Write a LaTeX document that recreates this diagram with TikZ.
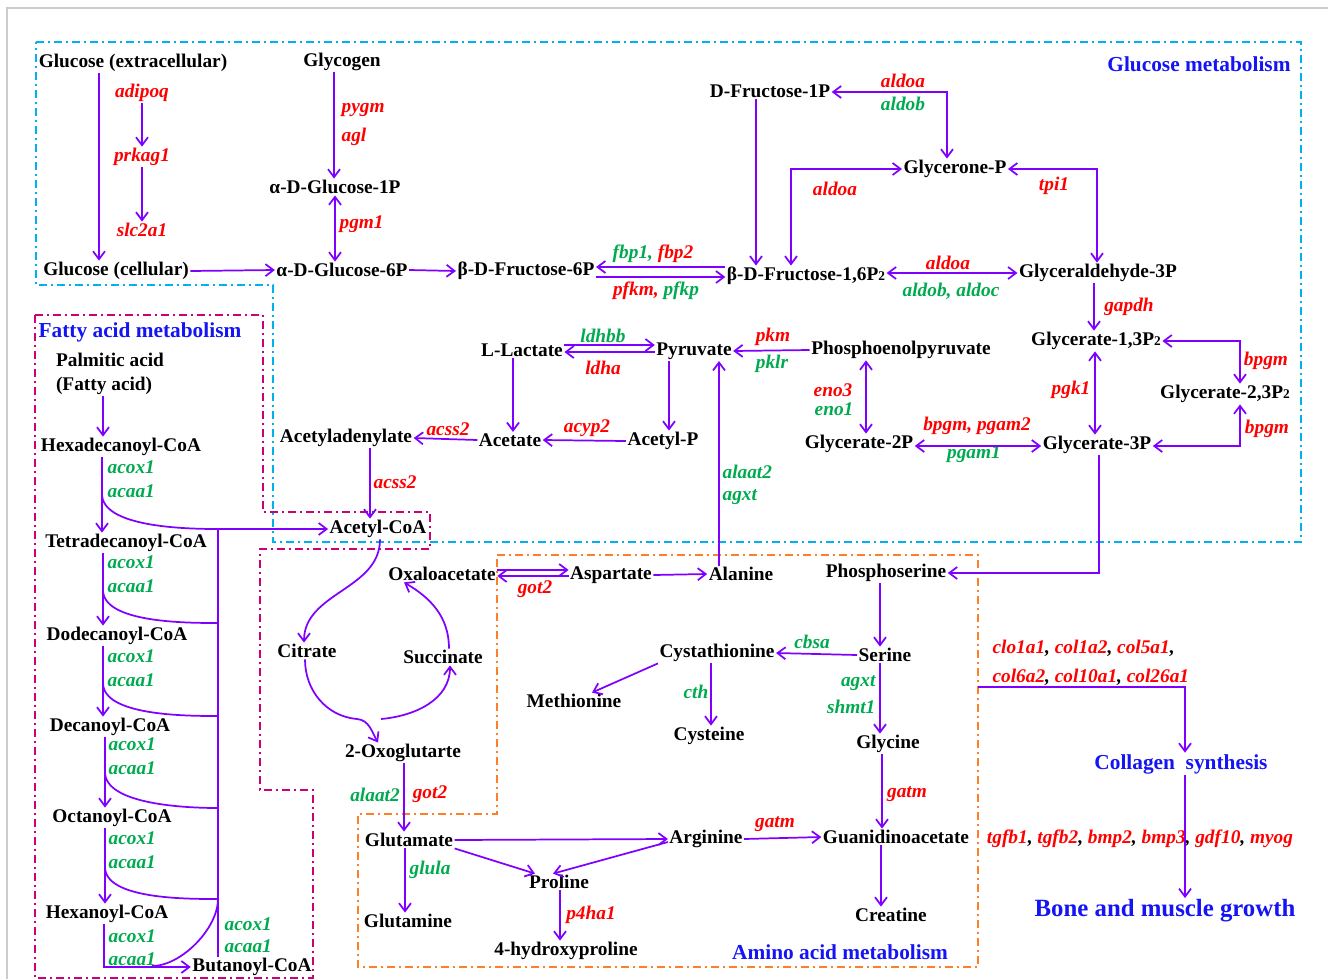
\documentclass[tikz,border=0pt]{standalone}
\usepackage{fontspec}
\setmainfont{Liberation Serif}
\usepackage{tikz}
\usetikzlibrary{arrows.meta}
\usetikzlibrary{calc}
\definecolor{arrowviolet}{RGB}{128,0,255}
\definecolor{genered}{RGB}{255,0,0}
\definecolor{genegreen}{RGB}{0,170,80}
\definecolor{headblue}{RGB}{20,20,245}
\definecolor{boxcyan}{RGB}{0,176,240}
\definecolor{boxmagenta}{RGB}{204,0,119}
\definecolor{boxorange}{RGB}{255,127,39}
\tikzstyle{met} = [font=\fontsize{14.5}{17}\selectfont\bfseries, inner sep=1pt, yshift=-1.5pt]
\tikzstyle{gene} = [font=\fontsize{14.5}{17}\selectfont\bfseries\itshape, text=genered, inner sep=1pt, yshift=-1.5pt]
\tikzstyle{genegr} = [gene, text=genegreen]
\tikzstyle{header} = [font=\fontsize{16}{19}\selectfont\bfseries, text=headblue, inner sep=1pt, yshift=-1.5pt]
\tikzstyle{line} = [draw=arrowviolet, line width=1.3pt, -{Straight Barb[length=6pt,width=9pt]}]
\tikzstyle{dline} = [line, {Straight Barb[length=6pt,width=9pt]}-{Straight Barb[length=6pt,width=9pt]}]
\tikzstyle{branch} = [draw=arrowviolet, line width=1.3pt]
\tikzstyle{region} = [line width=1.3pt, dash pattern=on 6pt off 3pt on 1.5pt off 3pt]
\newcommand{\Ptwo}{P{\fontsize{10}{10}\selectfont 2}}
\newcommand{\grn}[1]{\textcolor{genegreen}{#1}}
\newcommand{\rd}[1]{\textcolor{genered}{#1}}

\begin{document}
\begin{tikzpicture}[x=0.75pt, y=-0.75pt]
    \useasboundingbox[fill=white] (0,0) rectangle (1328,979);
    \draw[black!20, line width=0.8pt] (7,979) -- (7,8) -- (1328,8);
    % Regions
    \draw[region, draw=boxcyan] (36,42) -- (1301,42) -- (1301,542) -- (273,542) -- (273,285) -- (36,285) -- cycle;
    \draw[region, draw=boxmagenta] (35,315) -- (263,315) -- (263,512) -- (430,512) -- (430,549) -- (260,549) -- (260,790) -- (313,790) -- (313,978) -- (35,978) -- cycle;
    \draw[region, draw=boxorange] (497,555) -- (978,555) -- (978,967) -- (358,967) -- (358,814) -- (497,814) -- cycle;

    % Place nodes: glucose metabolism
    \node [header] (gmt) at (1199,62) {Glucose metabolism};
    \node [met] (gluext) at (133,61) {Glucose (extracellular)};
    \node [met] (glycogen) at (342,60) {Glycogen};
    \node [met] (gluc) at (116,269) {Glucose (cellular)};
    \node [met] (ag1p) at (335,185) {α-D-Glucose-1P};
    \node [met] (ag6p) at (342,268) {α-D-Glucose-6P};
    \node [met] (bf6p) at (526,269) {β-D-Fructose-6P};
    \node [met] (bf16) at (806,274) {β-D-Fructose-1,6\Ptwo};
    \node [met] (df1p) at (770,89) {D-Fructose-1P};
    \node [met] (glyp) at (955,167) {Glycerone-P};
    \node [met] (ga3p) at (1098,271) {Glyceraldehyde-3P};
    \node [met] (g13) at (1096,339) {Glycerate-1,3\Ptwo};
    \node [met] (g23) at (1225,392) {Glycerate-2,3\Ptwo};
    \node [met] (g3p) at (1097,443) {Glycerate-3P};
    \node [met] (g2p) at (859,442) {Glycerate-2P};
    \node [met] (pep) at (901,348) {Phosphoenolpyruvate};
    \node [met] (pyr) at (694,349) {Pyruvate};
    \node [met] (ll) at (522,348) {L-Lactate};
    \node [met] (ace) at (510,438) {Acetate};
    \node [met] (acp) at (663,439) {Acetyl-P};
    \node [met] (acad) at (346,436) {Acetyladenylate};
    \node [met] (accoa) at (378,527) {Acetyl-CoA};
    % genes
    \node [gene] (adipoq) at (142,91) {adipoq};
    \node [gene] (prkag) at (142,155) {prkag1};
    \node [gene] (slc) at (142,228) {slc2a1};
    \node [gene, anchor=west] (pygm) at (340,108) {pygm};
    \node [gene, anchor=west] (agl) at (340,135) {agl};
    \node [gene, anchor=west] (pgm) at (338,222) {pgm1};
    \node [gene] (fbp) at (653,252) {\grn{fbp1,} fbp2};
    \node [gene] (pfk) at (656,289) {pfkm, \grn{pfkp}};
    \node [gene] (aldoaA) at (903,79) {aldoa};
    \node [genegr] (aldobA) at (903,102) {aldob};
    \node [gene] (aldoaB) at (835,187) {aldoa};
    \node [gene] (tpi) at (1054,184) {tpi1};
    \node [gene] (aldoaC) at (948,261) {aldoa};
    \node [genegr] (aldobc) at (951,289) {aldob, aldoc};
    \node [gene] (gapdh) at (1129,305) {gapdh};
    \node [gene] (bpgmA) at (1266,359) {bpgm};
    \node [gene] (bpgmB) at (1267,427) {bpgm};
    \node [gene] (pgk) at (1071,388) {pgk1};
    \node [gene] (pgamA) at (977,424) {bpgm, pgam2};
    \node [genegr] (pgamB) at (974,452) {pgam1};
    \node [gene] (eno3) at (833,388) {eno3};
    \node [genegr] (eno1) at (834,407) {eno1};
    \node [gene] (pkm) at (773,335) {pkm};
    \node [genegr] (pklr) at (772,362) {pklr};
    \node [genegr] (ldhbb) at (603,334) {ldhbb};
    \node [gene] (ldha) at (603,366) {ldha};
    \node [gene] (acyp) at (587,426) {acyp2};
    \node [gene] (acssA) at (448,427) {acss2};
    \node [gene, anchor=west] (acssB) at (372,480) {acss2};
    \node [genegr, anchor=west] (alaatA) at (721,470) {alaat2};
    \node [genegr, anchor=west] (agxtA) at (721,495) {agxt};

    % Place nodes: fatty acid metabolism
    \node [header] (fam) at (140,330) {Fatty acid metabolism};
    \node [met, align=left] (palm) at (110,372) {Palmitic acid\\[1pt](Fatty acid)};
    \node [met] (hexadec) at (121,445) {Hexadecanoyl-CoA};
    \node [met] (tetradec) at (126,541) {Tetradecanoyl-CoA};
    \node [met] (dodec) at (117,634) {Dodecanoyl-CoA};
    \node [met] (decan) at (110,725) {Decanoyl-CoA};
    \node [met] (octan) at (112,816) {Octanoyl-CoA};
    \node [met] (hexan) at (107,912) {Hexanoyl-CoA};
    \node [met] (butan) at (252,965) {Butanoyl-CoA};
    \node [genegr, anchor=west] (acoxA) at (106,465) {acox1};
    \node [genegr, anchor=west] (acaaA) at (106,489) {acaa1};
    \node [genegr, anchor=west] (acoxB) at (106,560) {acox1};
    \node [genegr, anchor=west] (acaaB) at (106,584) {acaa1};
    \node [genegr, anchor=west] (acoxC) at (106,654) {acox1};
    \node [genegr, anchor=west] (acaaC) at (106,678) {acaa1};
    \node [genegr, anchor=west] (acoxD) at (107,742) {acox1};
    \node [genegr, anchor=west] (acaaD) at (107,766) {acaa1};
    \node [genegr, anchor=west] (acoxE) at (107,836) {acox1};
    \node [genegr, anchor=west] (acaaE) at (107,860) {acaa1};
    \node [genegr, anchor=west] (acoxF) at (107,934) {acox1};
    \node [genegr, anchor=west] (acaaF) at (107,957) {acaa1};
    \node [genegr, anchor=west] (acoxG) at (223,922) {acox1};
    \node [genegr, anchor=west] (acaaG) at (223,944) {acaa1};
    \coordinate (br1) at (102,494);
    \coordinate (br2) at (103,590);
    \coordinate (br3) at (103,683);
    \coordinate (br4) at (105,772);
    \coordinate (br5) at (105,867);
    \coordinate (br6) at (152,966);
    \coordinate (jn1) at (218,529);
    \coordinate (jn2) at (218,623);
    \coordinate (jn3) at (218,716);
    \coordinate (jn4) at (218,808);
    \coordinate (jn5) at (218,899);

    % Place nodes: TCA and amino acid metabolism
    \node [met] (citrate) at (307,649) {Citrate};
    \node [met] (oxo) at (403,751) {2-Oxoglutarte};
    \node [met] (succ) at (443,655) {Succinate};
    \node [met] (oaa) at (442,572) {Oxaloacetate};
    \node [met] (asp) at (611,573) {Aspartate};
    \node [met] (ala) at (741,572) {Alanine};
    \node [met] (glu) at (409,838) {Glutamate};
    \node [met] (gln) at (408,919) {Glutamine};
    \node [met] (arg) at (706,837) {Arginine};
    \node [met] (pro) at (559,880) {Proline};
    \node [met] (hyp) at (566,949) {4-hydroxyproline};
    \node [met] (gua) at (896,835) {Guanidinoacetate};
    \node [met] (creat) at (891,913) {Creatine};
    \node [met] (phser) at (886,571) {Phosphoserine};
    \node [met] (ser) at (885,653) {Serine};
    \node [met] (cysta) at (717,651) {Cystathionine};
    \node [met] (meth) at (574,699) {Methionine};
    \node [met] (cyst) at (709,734) {Cysteine};
    \node [met] (gly) at (888,742) {Glycine};
    \node [header] (amt) at (840,950) {Amino acid metabolism};
    \node [gene] (gotA) at (535,587) {got2};
    \node [genegr] (alaatB) at (375,793) {alaat2};
    \node [gene] (gotB) at (430,792) {got2};
    \node [genegr] (glula) at (430,868) {glula};
    \node [gene] (p4ha) at (591,913) {p4ha1};
    \node [gene] (gatmA) at (775,822) {gatm};
    \node [gene] (gatmB) at (907,792) {gatm};
    \node [genegr] (cbsa) at (812,640) {cbsa};
    \node [genegr] (cth) at (696,690) {cth};
    \node [genegr, anchor=east] (agxtB) at (877,681) {agxt};
    \node [genegr, anchor=east] (shmt) at (877,705) {shmt1};
    \coordinate (tcaj) at (357,719);
    \coordinate (kgout) at (381,719);

    % Place nodes: collagen, bone and muscle
    \coordinate (colstart) at (978,687);
    \node [gene, text=black, anchor=west] (colA) at (991,646) {\rd{clo1a1}, \rd{col1a2}, \rd{col5a1},};
    \node [gene, text=black, anchor=west] (colB) at (991,675) {\rd{col6a2}, \rd{col10a1}, \rd{col26a1}};
    \node [header] (coll) at (1181,762) {Collagen\ \ synthesis};
    \node [gene, text=black] (tgf) at (1140,837) {\rd{tgfb1}, \rd{tgfb2}, \rd{bmp2}, \rd{bmp3}, \rd{gdf10}, \rd{myog}};
    \node [header, font=\fontsize{18.6}{22}\selectfont\bfseries] (bone) at (1165,909) {Bone and muscle growth};

    % Draw edges: glucose metabolism
    \path [line] (gluext.south -| 99,0) -- (gluc.north -| 99,0);
    \path [line] (adipoq) -- (prkag);
    \path [line] (prkag) -- (slc);
    \path [line] (glycogen.south -| 334,0) -- (ag1p.north -| 334,0);
    \path [dline] (ag1p.south -| 335,0) -- (ag6p.north -| 335,0);
    \path [line] (gluc.east) -- (ag6p.west);
    \path [line] (ag6p.east) -- (bf6p.west);
    \path [line] (bf16.west |- 0,267) -- (bf6p.east |- 0,267);
    \path [line] (bf6p.east |- 0,277) -- (bf16.west |- 0,277);
    \path [dline] (df1p.east |- 0,92) -| (glyp.north -| 947,0);
    \path [line] (df1p.south -| 756,0) -- (bf16.north -| 756,0);
    \path [dline] (bf16.north -| 791,0) |- (glyp.west);
    \path [dline] (glyp.east) -| (ga3p.north -| 1097,0);
    \path [dline] (bf16.east |- 0,273) -- (ga3p.west |- 0,273);
    \path [line] (ga3p.south -| 1094,0) -- (g13.north -| 1094,0);
    \path [dline] (g13.east) -| (g23.north -| 1240,0);
    \path [dline] (g23.south -| 1240,0) |- (g3p.east |- 0,446);
    \path [dline] (g13.south -| 1095,0) -- (g3p.north -| 1095,0);
    \path [dline] (g2p.east |- 0,446) -- (g3p.west |- 0,446);
    \path [dline] (pep.south -| 866,0) -- (g2p.north -| 866,0);
    \path [line] (pep.west) -- (pyr.east);
    \path [line] (ll.east |- 0,345) -- (pyr.west |- 0,345);
    \path [line] (pyr.west |- 0,352) -- (ll.east |- 0,352);
    \path [line] (ll.south -| 513,0) -- (ace.north -| 513,0);
    \path [line] (pyr.south -| 669,0) -- (acp.north -| 669,0);
    \path [line] (acp.west) -- (ace.east);
    \path [line] (ace.west) -- (acad.east);
    \path [line] (acad.south -| 370,0) -- (accoa.north -| 370,0);
    \path [line] (ala.north -| 719,0) -- (pyr.south -| 719,0);
    \path [line] (g3p.south -| 1099,0) |- (phser.east);

    % Draw edges: fatty acid metabolism
    \path [line] (palm.south -| 103,0) -- (hexadec.north -| 103,0);
    \path [line] (hexadec.south -| 102,0) -- (tetradec.north -| 102,0);
    \path [line] (tetradec.south -| 103,0) -- (dodec.north -| 103,0);
    \path [line] (dodec.south -| 103,0) -- (decan.north -| 103,0);
    \path [line] (decan.south -| 105,0) -- (octan.north -| 105,0);
    \path [line] (octan.south -| 105,0) -- (hexan.north -| 105,0);
    \path [line] (hexan.south -| 104,0) |- (butan.west);
    \path [line] (br1) to[out=-90, in=180, looseness=0.7] (jn1) -- (accoa.west |- jn1);
    \path [branch] (br2) to[out=-90, in=180, looseness=0.7] (jn2);
    \path [branch] (br3) to[out=-90, in=180, looseness=0.7] (jn3);
    \path [branch] (br4) to[out=-90, in=180, looseness=0.7] (jn4);
    \path [branch] (br5) to[out=-90, in=180, looseness=0.7] (jn5);
    \path [branch] (jn5) to[out=-90, in=0, looseness=0.8] (br6);
    \path [branch] (jn1) -- (butan.north -| jn1);

    % Draw edges: TCA cycle
    \path [line] (accoa.south -| 380,0) to[out=-90, in=90] (citrate.north -| 304,0);
    \path [line] (citrate.south -| 305,0) to[out=-90, in=175] (tcaj) to[out=-5, in=120] (oxo.north -| 378,0);
    \path [line] (kgout) to[out=5, in=-90] (succ.south -| 450,0);
    \path [line] (succ.north -| 449,0) to[out=90, in=-30] (oaa.south -| 404,0);

    % Draw edges: amino acid metabolism
    \path [line] (oaa.east |- 0,570) -- (asp.west |- 0,570);
    \path [line] (asp.west |- 0,576) -- (oaa.east |- 0,576);
    \path [line] (asp.east) -- (ala.west);
    \path [line] (oxo.south -| 404,0) -- (glu.north -| 404,0);
    \path [line] (glu.east) -- (arg.west);
    \path [line] (glu.south east) -- (pro.north -| 535,0);
    \path [line] (arg.west |- 0,842) -- (pro.north -| 553,0);
    \path [line] (arg.east) -- (gua.west);
    \path [line] (pro.south -| 560,0) -- (hyp.north -| 560,0);
    \path [line] (glu.south -| 405,0) -- (gln.north -| 405,0);
    \path [line] (gua.south -| 881,0) -- (creat.north -| 881,0);
    \path [line] (phser.south -| 880,0) -- (ser.north -| 880,0);
    \path [line] (ser.west) -- (cysta.east);
    \path [line] (cysta.south west) -- (meth.north -| 592,0);
    \path [line] (cysta.south -| 711,0) -- (cyst.north -| 711,0);
    \path [line] (ser.south -| 880,0) -- (gly.north -| 880,0);
    \path [line] (gly.south -| 882,0) -- (gua.north -| 882,0);

    % Draw edges: collagen, bone and muscle
    \path [line] (colstart) -| (coll.north -| 1185,0);
    \path [line] (coll.south -| 1185,0) -- (bone.north -| 1185,0);
\end{tikzpicture}
\end{document}
